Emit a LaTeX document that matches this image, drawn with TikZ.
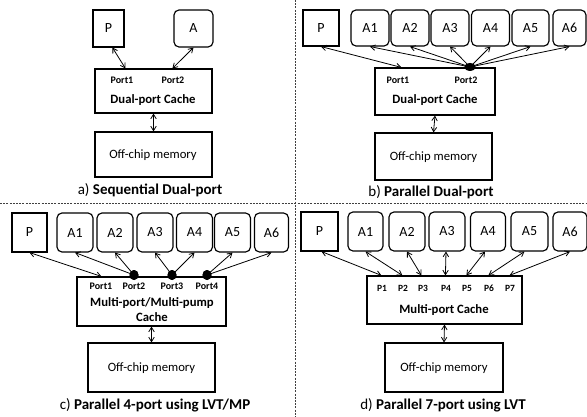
\documentclass[tikz,border=0pt]{standalone}
\usepackage{fontspec}
\setmainfont{Carlito}
\usetikzlibrary{arrows.meta,shapes.geometric}
\tikzset{
  >={Straight Barb[length=4.5pt,width=5.5pt]},
  sq/.style={draw,line width=1.15pt,minimum height=37pt,inner sep=0pt,font=\fontsize{14}{16}\selectfont},
  rb/.style={sq,rounded corners=5pt},
  cbox/.style={draw,line width=1.15pt,inner sep=0pt},
  lbl/.style={inner sep=0pt,font=\fontsize{12.7}{15}\selectfont},
  blbl/.style={inner sep=0pt,font=\bfseries\fontsize{12.7}{15}\selectfont},
  plbl/.style={inner sep=0pt,font=\bfseries\fontsize{9.5}{11}\selectfont},
  portlbl/.style={inner sep=0pt,font=\bfseries\fontsize{10}{12}\selectfont},
  captxt/.style={inner sep=0pt,font=\fontsize{15}{17}\selectfont},
  conn/.style={line width=0.8pt},
  dot/.style={ellipse,fill=black,inner sep=0pt},
  sepline/.style={line width=0.8pt,black!75,dash pattern=on 2pt off 1.2pt}
}
\begin{document}
\begin{tikzpicture}[x=1pt,y=-1pt]
\useasboundingbox (0,0) rectangle (587,417);
% separators
\draw[sepline] (295,0) -- (295,417);
\draw[sepline] (0,203) -- (587,203);

% ---------- panel a ----------
\node[sq,minimum width=31pt] (Pa) at (108.5,28.5) {P};
\node[rb,minimum width=39pt] (Aa) at (193.5,28.5) {A};
\node[cbox,minimum width=117pt,minimum height=44pt] (ca) at (153.5,91) {};
\node[cbox,minimum width=117pt,minimum height=45pt] (ma) at (153.5,154.5) {};
\node[portlbl] (ta1) at (122,80) {Port1};
\node[portlbl] (ta2) at (173,80) {Port2};
\node[blbl] (tca) at (153,100) {Dual-port Cache};
\node[lbl] (tma) at (153,155) {Off-chip memory};
\node[captxt] (capa) at (150,190) {a) \textbf{Sequential Dual-port}};
\coordinate (pa1) at ([xshift=31pt]ca.north west);
\coordinate (pa2) at ([xshift=78pt]ca.north west);
\draw[conn,<->] ([xshift=20pt]Pa.south west) -- (pa1);
\draw[conn,<->] (Aa.south) -- (pa2);
\draw[conn,<->] (ca.south) -- (ma.north);

% ---------- panel b ----------
\node[sq,minimum width=36pt,minimum height=36pt] (Pb) at (321,28) {P};
\node[rb,minimum width=38pt,minimum height=36pt] (A1b) at (370,28) {A1};
\node[rb,minimum width=38pt,minimum height=36pt] (A2b) at (410,28) {A2};
\node[rb,minimum width=38pt,minimum height=36pt] (A3b) at (450,28) {A3};
\node[rb,minimum width=38pt,minimum height=36pt] (A4b) at (490.5,28) {A4};
\node[rb,minimum width=37pt,minimum height=36pt] (A5b) at (530.5,28) {A5};
\node[rb,minimum width=33pt,minimum height=36pt] (A6b) at (569.5,28) {A6};
\node[cbox,minimum width=120pt,minimum height=47pt] (cb) at (435,91.5) {};
\node[cbox,minimum width=117pt,minimum height=47pt] (mb) at (433.5,156.5) {};
\node[portlbl] (tb1) at (398,80) {Port1};
\node[portlbl] (tb2) at (466,80) {Port2};
\node[blbl] (tcb) at (435,100) {Dual-port Cache};
\node[lbl] (tmb) at (433.5,157) {Off-chip memory};
\node[captxt] (capb) at (431,192) {b) \textbf{Parallel Dual-port}};
\coordinate (pb1) at ([xshift=27pt]cb.north west);
\node[dot,minimum width=11pt,minimum height=8pt] (db) at (470,67) {};
\draw[conn,<->] (Pb.south) -- (pb1);
\foreach \n in {A1b,A2b,A3b,A4b,A5b,A6b} \draw[conn,<-] (\n.south) -- (db.center);
\node[dot,minimum width=11pt,minimum height=8pt] at (db) {};
\draw[conn,<->] (cb.south) -- (mb.north);

% ---------- panel c ----------
\node[sq,minimum width=35pt,minimum height=39pt] (Pc) at (29.5,232.5) {P};
\node[rb,minimum width=36pt,minimum height=39pt] (A1c) at (75,232.5) {A1};
\node[rb,minimum width=36pt,minimum height=39pt] (A2c) at (115,232.5) {A2};
\node[rb,minimum width=36pt,minimum height=39pt] (A3c) at (155,232.5) {A3};
\node[rb,minimum width=36pt,minimum height=39pt] (A4c) at (194.5,232.5) {A4};
\node[rb,minimum width=36pt,minimum height=39pt] (A5c) at (232.5,232.5) {A5};
\node[rb,minimum width=34pt,minimum height=39pt] (A6c) at (271.5,232.5) {A6};
\node[cbox,minimum width=149pt,minimum height=49pt] (cc) at (151.5,301.5) {};
\node[cbox,minimum width=127pt,minimum height=49pt] (mc) at (151.5,367.5) {};
\node[portlbl] (tc1) at (101,286) {Port1};
\node[portlbl] (tc2) at (134,286) {Port2};
\node[portlbl] (tc3) at (172,286) {Port3};
\node[portlbl] (tc4) at (207,286) {Port4};
\node[blbl] (tcc1) at (152,303) {Multi-port/Multi-pump};
\node[blbl] (tcc2) at (152,317) {Cache};
\node[lbl] (tmc) at (151.5,368) {Off-chip memory};
\node[captxt] (capc) at (155,405) {c) \textbf{Parallel 4-port using LVT/MP}};
\coordinate (pc1) at ([xshift=25pt]cc.north west);
\node[dot,minimum width=9pt,minimum height=10pt] (dc2) at (134,275) {};
\node[dot,minimum width=9pt,minimum height=10pt] (dc3) at (172,275) {};
\node[dot,minimum width=9pt,minimum height=10pt] (dc4) at (207,275) {};
\draw[conn,<->] (Pc.south) -- (pc1);
\draw[conn,<-] (A1c.south) -- (dc2.center);
\draw[conn,<-] (A2c.south) -- (dc2.center);
\draw[conn,<-] (A3c.south) -- (dc3.center);
\draw[conn,<-] (A4c.south) -- (dc3.center);
\draw[conn,<-] (A5c.south) -- (dc4.center);
\draw[conn,<-] (A6c.south) -- (dc4.center);
\node[dot,minimum width=9pt,minimum height=10pt] at (dc2) {};
\node[dot,minimum width=9pt,minimum height=10pt] at (dc3) {};
\node[dot,minimum width=9pt,minimum height=10pt] at (dc4) {};
\draw[conn,<->] (cc.south) -- (mc.north);

% ---------- panel d ----------
\node[sq,minimum width=37pt,minimum height=39pt] (Pd) at (319.5,231.5) {P};
\node[rb,minimum width=35pt,minimum height=39pt] (A1d) at (365.5,231.5) {A1};
\node[rb,minimum width=36pt,minimum height=39pt] (A2d) at (407,231.5) {A2};
\node[rb,minimum width=36pt,minimum height=39pt] (A3d) at (447,231.5) {A3};
\node[rb,minimum width=35pt,minimum height=39pt] (A4d) at (488,231.5) {A4};
\node[rb,minimum width=37pt,minimum height=39pt] (A5d) at (529.5,231.5) {A5};
\node[rb,minimum width=34pt,minimum height=39pt] (A6d) at (570,231.5) {A6};
\node[cbox,minimum width=155pt,minimum height=48pt] (cd) at (444.5,300) {};
\node[cbox,minimum width=118pt,minimum height=49pt] (md) at (444,367.5) {};
\node[plbl] (td1) at (382,288) {P1};
\node[plbl] (td2) at (403,288) {P2};
\node[plbl] (td3) at (423,288) {P3};
\node[plbl] (td4) at (446,288) {P4};
\node[plbl] (td5) at (467,288) {P5};
\node[plbl] (td6) at (489,288) {P6};
\node[plbl] (td7) at (510,288) {P7};
\node[blbl] (tcd) at (444,310) {Multi-port Cache};
\node[lbl] (tmd) at (444,368) {Off-chip memory};
\node[captxt] (capd) at (443,405) {d) \textbf{Parallel 7-port using LVT}};
\coordinate (pd1) at ([xshift=15pt]cd.north west);
\coordinate (pd2) at ([xshift=36pt]cd.north west);
\coordinate (pd3) at ([xshift=55pt]cd.north west);
\coordinate (pd4) at ([xshift=79pt]cd.north west);
\coordinate (pd5) at ([xshift=100pt]cd.north west);
\coordinate (pd6) at ([xshift=122pt]cd.north west);
\coordinate (pd7) at ([xshift=143pt]cd.north west);
\draw[conn,<->] ([xshift=2pt]Pd.south) -- (pd1);
\draw[conn,<->] (A1d.south) -- (pd2);
\draw[conn,<->] (A2d.south) -- (pd3);
\draw[conn,<->] ([xshift=-1pt]A3d.south) -- (pd4);
\draw[conn,<->] ([xshift=-3pt]A4d.south) -- (pd5);
\draw[conn,<->] ([xshift=-5pt]A5d.south) -- (pd6);
\draw[conn,<->] (A6d.south) -- (pd7);
\draw[conn,<->] (cd.south) -- (md.north);
\end{tikzpicture}
\end{document}
